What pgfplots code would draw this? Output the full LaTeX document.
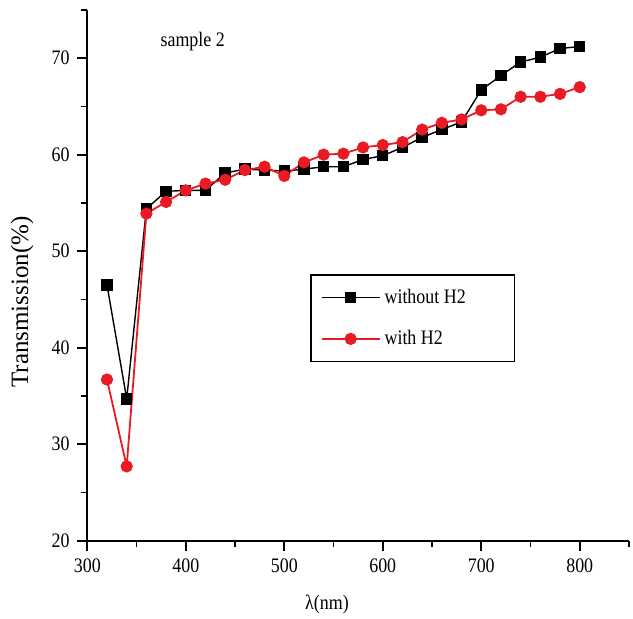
\documentclass[border=0pt]{standalone}
\usepackage{fontspec}
\setmainfont{Liberation Serif}[FakeStretch=0.87]
\newfontfamily\ylfont{Liberation Serif}
\usepackage{pgfplots}
\pgfplotsset{compat=1.18}
\definecolor{myred}{RGB}{232,26,36}
\begin{document}
\fontsize{10.3}{12}\selectfont
\begin{tikzpicture}
\path[use as bounding box] (-43.65pt,-38.65pt) rectangle (272.85pt,270.35pt);
\begin{axis}[
  at={(0pt,0pt)}, anchor=south west,
  scale only axis,
  width=270.85pt, height=265.4pt,
  axis lines=left,
  axis line style={-, line width=0.9pt},
  xmin=300, xmax=850, ymin=20, ymax=75,
  xtick={300,400,...,800},
  minor xtick={350,450,...,850},
  ytick={20,30,...,70},
  minor ytick={25,35,...,75},
  tick align=outside,
  major tick length=5.2pt,
  minor tick length=3pt,
  every tick/.style={black, line width=0.9pt},
  /pgf/number format/assume math mode=true,
  tick label style={font=\fontsize{10.3}{12}\selectfont},
  xlabel={λ(nm)},
  ylabel={Transmission(\%)},
  xlabel style={at={(axis description cs:0.4425,-0.121)}, anchor=center, font=\fontsize{10.3}{12}\selectfont},
  ylabel style={at={(axis description cs:-0.1205,0.45)}, anchor=center, font=\ylfont\fontsize{12.5}{14}\selectfont},
  legend style={at={(axis description cs:0.4111,0.5024)}, anchor=north west,
    draw=black, line width=0.8pt, inner xsep=5pt, inner ysep=5pt,
    row sep=8pt, font=\fontsize{10.3}{12}\selectfont},
  legend cell align=left,
  legend image code/.code={
    \draw[mark repeat=2,mark phase=2,#1] plot coordinates {(0pt,0pt) (14.5pt,0pt) (29pt,0pt)};
  },
  clip=false,
]
\addplot[black, line width=0.7pt, mark=square*, mark size=2.5pt, mark options={solid}] coordinates {
(320,46.5) (340,34.7) (360,54.4) (380,56.2) (400,56.3) (420,56.3) (440,58.1) (460,58.5)
(480,58.4) (500,58.3) (520,58.5) (540,58.75) (560,58.75) (580,59.5) (600,59.9) (620,60.75)
(640,61.8) (660,62.6) (680,63.4) (700,66.7) (720,68.2) (740,69.6) (760,70.1) (780,71.0) (800,71.2)
};
\addlegendentry{\makebox[58pt][l]{without H2}}
\addplot[myred, line width=0.9pt, mark=*, mark size=2.6pt, mark options={solid, fill=myred}] coordinates {
(320,36.7) (340,27.7) (360,53.9) (380,55.1) (400,56.3) (420,57.0) (440,57.4) (460,58.4)
(480,58.75) (500,57.8) (520,59.2) (540,60.0) (560,60.1) (580,60.75) (600,61.0) (620,61.3)
(640,62.6) (660,63.3) (680,63.65) (700,64.6) (720,64.7) (740,66.0) (760,66.0) (780,66.3) (800,67.0)
};
\addlegendentry{with H2}
\node[font=\fontsize{10.3}{12}\selectfont] at (axis cs:407,71.7) {sample 2};
\end{axis}
\end{tikzpicture}
\end{document}
